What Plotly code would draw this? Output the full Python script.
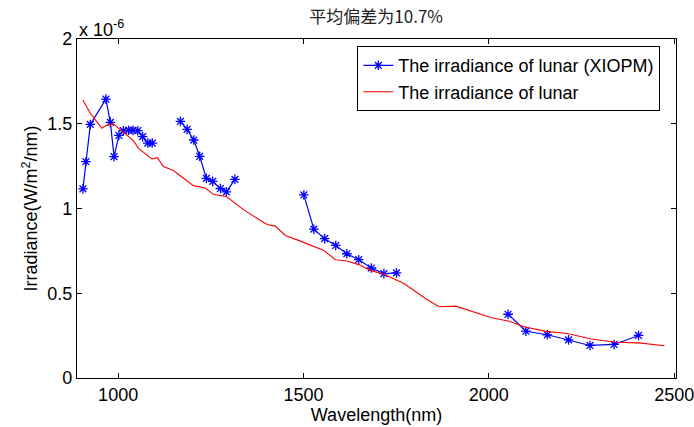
import plotly.graph_objects as go

# Measured lunar irradiance (XIOPM), wavelength in nm, irradiance in 1e-6 W/m^2/nm
xiopm_b1_wl = [905, 913, 925, 967, 979, 989, 1002, 1014, 1028, 1040, 1053, 1066, 1080, 1092]
xiopm_b1_irr = [1.116, 1.276, 1.496, 1.645, 1.508, 1.306, 1.431, 1.459, 1.462, 1.461, 1.459, 1.424, 1.386, 1.386]

xiopm_b2_wl = [1168, 1186, 1204, 1220, 1238, 1255, 1276, 1292, 1315]
xiopm_b2_irr = [1.514, 1.467, 1.404, 1.308, 1.178, 1.160, 1.118, 1.098, 1.172]

xiopm_b3_wl = [1501, 1528, 1557, 1587, 1617, 1649, 1683, 1717, 1751]
xiopm_b3_irr = [1.080, 0.878, 0.822, 0.782, 0.733, 0.698, 0.649, 0.616, 0.620]

xiopm_b4_wl = [2052, 2100, 2158, 2215, 2273, 2338, 2404]
xiopm_b4_irr = [0.376, 0.276, 0.255, 0.225, 0.192, 0.198, 0.251]

# Model lunar irradiance
model_wl = [905, 924, 956, 970, 987, 1010, 1032, 1041, 1055, 1091, 1106, 1122, 1149,
            1203, 1235, 1258, 1292, 1339, 1384, 1402, 1424, 1451, 1483, 1528, 1555,
            1586, 1618, 1649, 1681, 1717, 1771, 1834, 1866, 1911, 1956, 2005, 2055,
            2095, 2154, 2212, 2276, 2339, 2411, 2474]
model_irr = [1.640, 1.565, 1.474, 1.492, 1.499, 1.455, 1.415, 1.400, 1.355, 1.292, 1.300, 1.247, 1.224,
             1.135, 1.121, 1.082, 1.071, 0.992, 0.929, 0.906, 0.896, 0.841, 0.815, 0.776, 0.753,
             0.698, 0.690, 0.669, 0.635, 0.612, 0.557, 0.462, 0.420, 0.424, 0.392, 0.357, 0.335,
             0.302, 0.275, 0.263, 0.230, 0.212, 0.206, 0.190]

x_ticks = [1000, 1500, 2000, 2500]
y_ticks = [0, 0.5, 1, 1.5, 2]
y_tick_text = ["0", "0.5", "1", "1.5", "2"]

# Bands joined with gaps (None) so they plot as one series
xiopm_wl, xiopm_irr = [], []
for wl, irr in [(xiopm_b1_wl, xiopm_b1_irr), (xiopm_b2_wl, xiopm_b2_irr),
                (xiopm_b3_wl, xiopm_b3_irr), (xiopm_b4_wl, xiopm_b4_irr)]:
    if xiopm_wl:
        xiopm_wl.append(None)
        xiopm_irr.append(None)
    xiopm_wl += wl
    xiopm_irr += irr

FONT = "Liberation Sans, Arial, sans-serif"
FS = 18

fig = go.Figure()
fig.add_trace(go.Scatter(
    x=xiopm_wl, y=xiopm_irr, mode="lines+markers",
    name="The irradiance of lunar (XIOPM)",
    line=dict(color="#0000ff", width=1.2),
    marker=dict(symbol="asterisk-open", size=8, color="#0000ff",
                line=dict(color="#0000ff", width=1.3)),
    connectgaps=False,
))
fig.add_trace(go.Scatter(
    x=model_wl, y=model_irr, mode="lines",
    name="The irradiance of lunar",
    line=dict(color="#ff0000", width=1.1),
))

axis_common = dict(
    showgrid=False, zeroline=False, showline=True, linecolor="black", linewidth=1.3,
    mirror="allticks", ticks="inside", ticklen=5, tickcolor="black", tickwidth=1,
    tickfont=dict(family=FONT, size=FS, color="black"),
    ticklabeloverflow="allow", automargin=False,
)

fig.update_layout(
    width=694, height=427,
    margin=dict(l=77, r=18, t=39, b=49),
    paper_bgcolor="white", plot_bgcolor="white",
    font=dict(family=FONT, size=FS, color="black"),
    title=dict(text="平均偏差为10.7%", x=0.542, xanchor="center", y=0.96, yanchor="middle",
               font=dict(family="Noto Sans CJK SC, sans-serif", size=FS - 1, color="#222222")),
    xaxis=dict(range=[889, 2505], tickvals=x_ticks,
               title=dict(text="Wavelength(nm)", standoff=0, font=dict(family=FONT, size=FS)),
               **axis_common),
    yaxis=dict(range=[0, 2], tickvals=y_ticks, ticktext=y_tick_text,
               title=dict(text="Irradiance(W/m<sup>2</sup>/nm)", standoff=4,
                          font=dict(family=FONT, size=FS)),
               **axis_common),
    legend=dict(x=0.468, y=0.979, xanchor="left", yanchor="top",
                bordercolor="black", borderwidth=1, bgcolor="white",
                font=dict(family=FONT, size=FS, color="black"),
                tracegroupgap=0),
    showlegend=True,
)

fig.add_annotation(
    text="x 10<sup>-6</sup>", xref="paper", yref="paper", x=0.0, y=1.0,
    xanchor="left", yanchor="bottom", showarrow=False, yshift=-3,
    font=dict(family=FONT, size=FS, color="black"),
)

fig.write_html("out.html")
